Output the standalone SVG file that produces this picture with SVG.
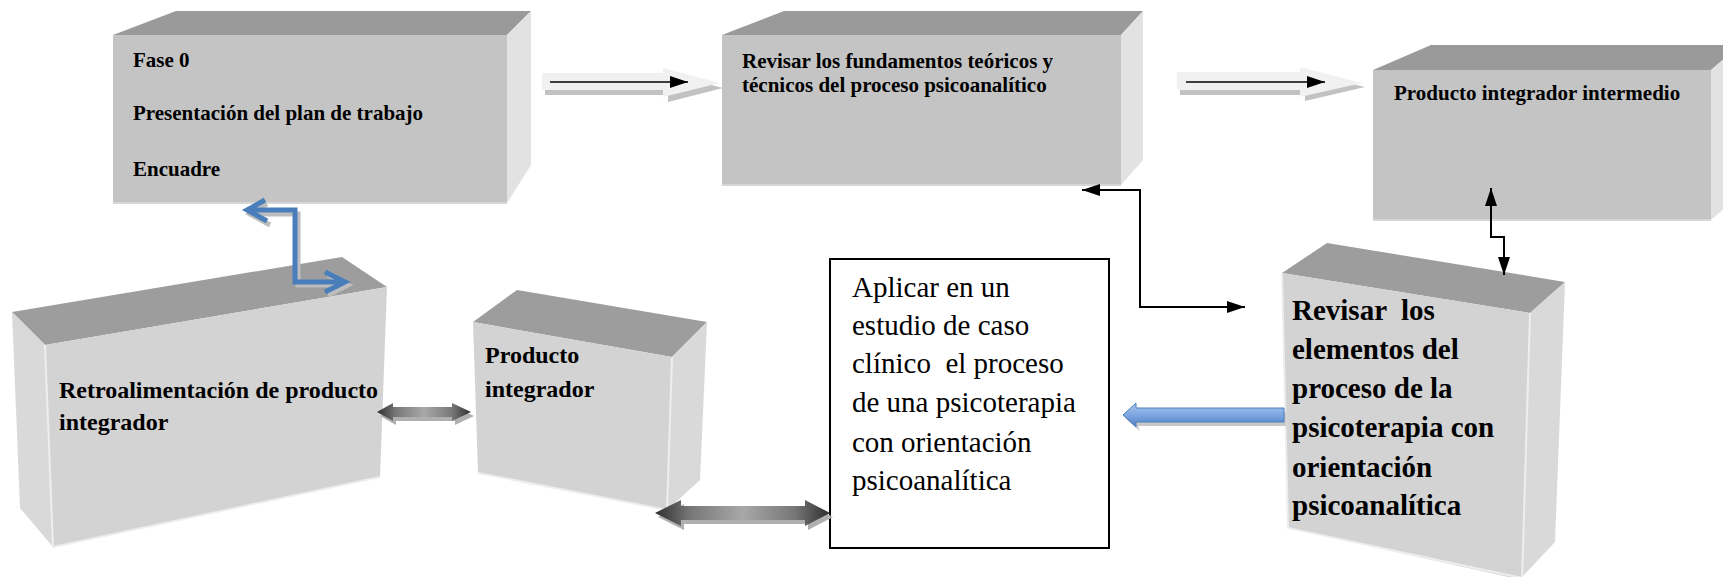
<svg xmlns="http://www.w3.org/2000/svg" width="1723" height="577" viewBox="0 0 1723 577">
<style>
.t{font-family:"Liberation Serif","Times New Roman",serif;fill:#000}
.b{font-weight:bold}
.pre{white-space:pre}
.f1{fill:#c4c4c4}
.tp1{fill:#9a9a9a}
.sd1{fill:#e2e2e2}
.f2{fill:#d3d3d3}
.tp2{fill:#9d9d9d}
.sd2{fill:#d9d9d9}
.edge{fill:none;stroke:#eeeeee;stroke-width:2}
.blk{fill:none;stroke:#000;stroke-width:2}
</style>
<defs>
<linearGradient id="gGray" x1="0" y1="0" x2="1" y2="0">
<stop offset="0" stop-color="#2e2e2e"/>
<stop offset="0.2" stop-color="#777"/>
<stop offset="0.5" stop-color="#a8a8a8"/>
<stop offset="0.8" stop-color="#777"/>
<stop offset="1" stop-color="#2e2e2e"/>
</linearGradient>
<linearGradient id="gBlue" x1="0" y1="0" x2="0" y2="1">
<stop offset="0" stop-color="#a9c6f0"/>
<stop offset="0.5" stop-color="#7ea6e0"/>
<stop offset="1" stop-color="#4f7fc4"/>
</linearGradient>
<marker id="ah" viewBox="0 0 10 10" refX="10" refY="5" markerWidth="9" markerHeight="9" markerUnits="userSpaceOnUse" orient="auto-start-reverse">
<path d="M0,0 L10,5 L0,10 z" fill="#000"/>
</marker>
<marker id="ahL" viewBox="0 0 10 10" refX="10" refY="5" markerWidth="18" markerHeight="12" markerUnits="userSpaceOnUse" orient="auto-start-reverse" preserveAspectRatio="none">
<path d="M0,0 L10,5 L0,10 z" fill="#000"/>
</marker>
</defs>
<rect width="1723" height="577" fill="#fff"/>

<g id="node-fase0">
<polygon class="tp1" points="113,35 176,11 531,11 507,35"/>
<polygon class="sd1" points="507,35 531,11 531,165 507,203"/>
<rect class="f1" x="113" y="35" width="394" height="168"/>
<line x1="113" y1="203" x2="507" y2="203" stroke="#d6d6d6" stroke-width="2"/>
<text class="t b" font-size="21" x="133" y="67">Fase 0</text>
<text class="t b" font-size="21" x="133" y="120">Presentación del plan de trabajo</text>
<text class="t b" font-size="21" x="133" y="176">Encuadre</text>
</g>

<g id="node-revisar-fundamentos">
<polygon class="tp1" points="722,35 784,11 1143,11 1121,35"/>
<polygon class="sd1" points="1121,35 1143,11 1143,160 1121,185"/>
<rect class="f1" x="722" y="35" width="399" height="150"/>
<line x1="722" y1="185" x2="1121" y2="185" stroke="#d6d6d6" stroke-width="2"/>
<text class="t b" font-size="21" x="742" y="68">Revisar los fundamentos teóricos y</text>
<text class="t b" font-size="21" x="742" y="92">técnicos del proceso psicoanalítico</text>
</g>

<g id="node-producto-intermedio">
<polygon class="tp1" points="1373,70 1431,45 1740,45 1711,70"/>
<polygon class="sd1" points="1711,70 1740,45 1740,195 1711,220"/>
<rect class="f1" x="1373" y="70" width="338" height="150"/>
<line x1="1373" y1="220" x2="1711" y2="220" stroke="#d6d6d6" stroke-width="2"/>
<text class="t b" font-size="21" x="1394" y="100">Producto integrador intermedio</text>
</g>

<g id="node-retroalimentacion">
<polygon class="tp2" points="12,312 342,257 387,287 45,345"/>
<polygon class="sd2" points="12,312 45,345 53,547 20,508"/>
<polygon class="f2" points="45,345 387,287 380,477 53,547"/>
<polyline class="edge" points="45,345 53,547 380,477"/>
<text class="t b" font-size="24" x="59" y="398">Retroalimentación de producto</text>
<text class="t b" font-size="24" x="59" y="430">integrador</text>
</g>

<g id="node-producto-integrador">
<polygon class="tp2" points="473,322 517,290 707,322 672,357"/>
<polygon class="sd2" points="672,357 707,322 700,480 667,510"/>
<polygon class="f2" points="473,322 672,357 667,510 478,473"/>
<polyline class="edge" points="672,357 667,510 478,473"/>
<text class="t b" font-size="24" x="485" y="363">Producto</text>
<text class="t b" font-size="24" x="485" y="397">integrador</text>
</g>

<g id="node-aplicar">
<rect x="830" y="259" width="279" height="289" fill="#fff" stroke="#000" stroke-width="2"/>
<text class="t" font-size="29" x="852" y="297">Aplicar en un</text>
<text class="t" font-size="29" x="852" y="335">estudio de caso</text>
<text class="t pre" font-size="29" x="852" y="373">clínico  el proceso</text>
<text class="t" font-size="29" x="852" y="412">de una psicoterapia</text>
<text class="t" font-size="29" x="852" y="452">con orientación</text>
<text class="t" font-size="29" x="852" y="490">psicoanalítica</text>
</g>

<g id="node-revisar-elementos">
<polygon class="tp2" points="1282,273 1327,243 1565,282 1530,313"/>
<polygon class="sd2" points="1530,313 1565,282 1555,542 1522,577"/>
<polygon class="f2" points="1282,273 1530,313 1522,580 1288,528"/>
<polyline class="edge" points="1530,313 1522,580"/>
<polyline class="edge" points="1282,275 1288,528 1522,578"/>
<text class="t b pre" font-size="29" x="1292" y="320">Revisar  los</text>
<text class="t b" font-size="29" x="1292" y="359">elementos del</text>
<text class="t b" font-size="29" x="1292" y="398">proceso de la</text>
<text class="t b" font-size="29" x="1292" y="437">psicoterapia con</text>
<text class="t b" font-size="29" x="1292" y="477">orientación</text>
<text class="t b" font-size="29" x="1292" y="515">psicoanalítica</text>
</g>

<g id="connectors">
<!-- block arrow fase0 -> revisar fundamentos -->
<g>
<polygon points="545,78 666,78 666,73 723,88 668,102 668,95 545,95" fill="#c2c2c2"/>
<polygon points="542,73 663,73 663,68 720,83 663,97 663,90 542,90" fill="#f1f1f1"/>
<line x1="550" y1="82" x2="688" y2="82" stroke="#000" stroke-width="1.5" marker-end="url(#ahL)"/>
</g>
<!-- block arrow revisar fundamentos -> producto intermedio -->
<g>
<polygon points="1180,77 1303,77 1303,72 1365,87 1305,101 1305,95 1180,95" fill="#c2c2c2"/>
<polygon points="1177,72 1300,72 1300,67 1362,83 1300,97 1300,90 1177,90" fill="#f1f1f1"/>
<line x1="1186" y1="82" x2="1325" y2="82" stroke="#000" stroke-width="1.5" marker-end="url(#ahL)"/>
</g>
<!-- blue elbow double arrow fase0 <-> retroalimentacion -->
<g fill="none" stroke-width="5" stroke-linejoin="miter">
<path d="M250,214 H298 V285 H348 M267,204 L250,214 L270,225 M328,275 L348,285 L328,295" stroke="#bdbdbd"/>
<path d="M247,210 H295 V282 H345 M265,200 L247,210 L267,221 M325,272 L345,282 L325,292" stroke="#4a7ebb"/>
</g>
<!-- black elbow double arrow revisar fundamentos <-> revisar elementos -->
<path class="blk" d="M1082,190 H1140 V307 H1245" marker-start="url(#ahL)" marker-end="url(#ahL)"/>
<!-- black connector producto intermedio <-> revisar elementos -->
<path class="blk" d="M1491,188 V237 H1504 V275" marker-start="url(#ahL)" marker-end="url(#ahL)"/>
<!-- gray double arrow retroalimentacion <-> producto integrador -->
<g>
<polygon points="380,416 396,407 396,411 455,411 455,407 474,416 455,425 455,421 396,421 396,425" fill="#b0b0b0"/>
<polygon points="377,412 393,403 393,407 452,407 452,403 471,412 452,421 452,417 393,417 393,421" fill="url(#gGray)"/>
</g>
<!-- gray double arrow producto integrador <-> aplicar -->
<g>
<polygon points="658,517 684,504 684,510 808,510 808,504 833,517 808,530 808,524 684,524 684,530" fill="#b0b0b0"/>
<polygon points="655,513 681,500 681,506 805,506 805,500 830,513 805,526 805,520 681,520 681,526" fill="url(#gGray)"/>
</g>
<!-- blue block arrow revisar elementos -> aplicar -->
<g>
<polygon points="1126,419 1138,407 1138,412 1286,412 1286,426 1138,426 1140,431" fill="#c8c8c8"/>
<polygon points="1123,415 1136,403 1136,408 1284,408 1284,422 1136,422 1136,427" fill="url(#gBlue)" stroke="#4a7ebb" stroke-width="1"/>
</g>
</g>
</svg>
